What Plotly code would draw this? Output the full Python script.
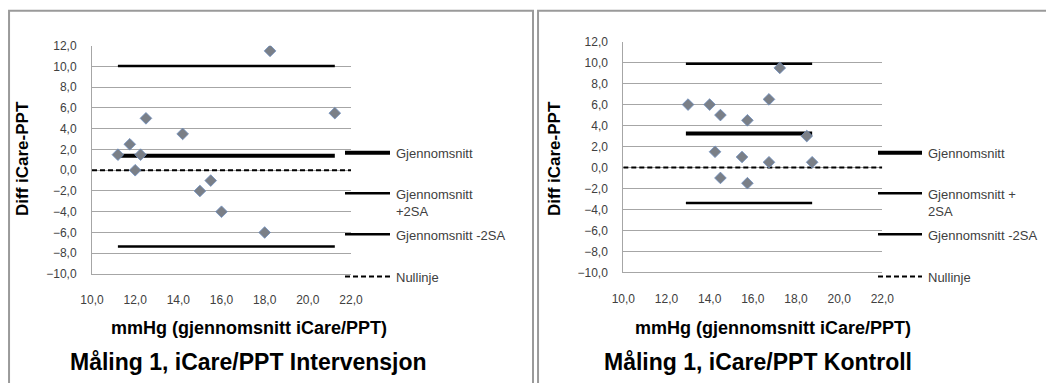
import plotly.graph_objects as go

# page body has an 8px margin: figure is sized to fit the window and
# target pixel positions are converted accordingly
OFF = 8
W, H = 1054 - OFF, 383 - OFF

# ---------------- data ----------------
titles = ["Måling 1, iCare/PPT Intervensjon", "Måling 1, iCare/PPT Kontroll"]
x_title = "mmHg (gjennomsnitt iCare/PPT)"
y_title = "Diff iCare-PPT"

int_x = [11.2, 11.75, 12.25, 12.0, 12.5, 14.2, 15.0, 15.5, 16.0, 18.0, 18.25, 21.25]
int_y = [1.5, 2.5, 1.5, 0.0, 5.0, 3.5, -2.0, -1.0, -4.0, -6.0, 11.5, 5.5]
int_mean, int_upper, int_lower = 1.4, 10.05, -7.35
int_span = [11.2, 21.25]

kon_x = [13.0, 14.0, 14.5, 15.75, 16.75, 17.25, 18.5, 18.75, 14.25, 15.5, 16.75, 14.5, 15.75]
kon_y = [6.0, 6.0, 5.0, 4.5, 6.5, 9.5, 3.0, 0.5, 1.5, 1.0, 0.5, -1.0, -1.5]
kon_mean, kon_upper, kon_lower = 3.25, 9.9, -3.4
kon_span = [12.9, 18.75]

zero_span = [10, 22]
x_range = [10, 22]
y_range = [-10, 12]

legend_int = ["Gjennomsnitt", "Gjennomsnitt<br>+2SA", "Gjennomsnitt -2SA", "Nullinje"]
legend_kon = ["Gjennomsnitt", "Gjennomsnitt +<br>2SA", "Gjennomsnitt -2SA", "Nullinje"]


def px(x):
    return max(0.0, (x - OFF) / W)


def py(y):
    return min(1.0, 1 - (y - OFF) / H)


fig = go.Figure()

panels = [
    dict(x=int_x, y=int_y, mean=int_mean, up=int_upper, lo=int_lower, span=int_span,
         xa="x", ya="y", dom_x=[92, 351], dom_y=[45.7, 274], legend=legend_int,
         leg_x0=345, leg_x1=390, ytitle_x=22, center_x=249, title_x=248, border=[6, 533]),
    dict(x=kon_x, y=kon_y, mean=kon_mean, up=kon_upper, lo=kon_lower, span=kon_span,
         xa="x2", ya="y2", dom_x=[623.3, 882.3], dom_y=[41.7, 272.3], legend=legend_kon,
         leg_x0=878, leg_x1=922, ytitle_x=554, center_x=773, title_x=758, border=[537, 1080]),
]

line_styles = [
    dict(color="black", width=4),
    dict(color="black", width=2.5),
    dict(color="black", width=2.5),
    dict(color="black", width=2, dash="5px,3px"),
]
leg_y = [152.7, 193.3, 234.3, 276.5]

shapes = []
annotations = []
FONT = "Liberation Sans, Arial"

for i, p in enumerate(panels):
    xa, ya = p["xa"], p["ya"]
    for val, st, nm in [(p["mean"], line_styles[0], "Gjennomsnitt"),
                        (p["up"], line_styles[1], "Gjennomsnitt +2SA"),
                        (p["lo"], line_styles[2], "Gjennomsnitt -2SA")]:
        fig.add_trace(go.Scatter(x=p["span"], y=[val, val], mode="lines", line=st,
                                 xaxis=xa, yaxis=ya, showlegend=False, name=nm,
                                 hoverinfo="skip"))
    fig.add_trace(go.Scatter(x=zero_span, y=[0, 0], mode="lines", line=line_styles[3],
                             xaxis=xa, yaxis=ya, showlegend=False, name="Nullinje",
                             hoverinfo="skip"))
    fig.add_trace(go.Scatter(x=p["x"], y=p["y"], mode="markers", xaxis=xa, yaxis=ya,
                             showlegend=False, name="Diff",
                             marker=dict(symbol="diamond", size=9, color="#7a7f87",
                                         line=dict(color="#6f8fc0", width=0.8))))

    for k, (lab, st, yy) in enumerate(zip(p["legend"], line_styles, leg_y)):
        shapes.append(dict(type="line", xref="paper", yref="paper",
                           x0=px(p["leg_x0"]), x1=px(p["leg_x1"]), y0=py(yy), y1=py(yy),
                           line=st))
        annotations.append(dict(text=lab, xref="paper", yref="paper",
                                x=px(p["leg_x1"] + 4), y=py(yy - 8.5), xanchor="left",
                                yanchor="top", showarrow=False, align="left",
                                font=dict(family=FONT, size=13, color="#404040")))
    annotations.append(dict(text="<b>" + y_title + "</b>", xref="paper", yref="paper",
                            x=px(p["ytitle_x"]), y=py(159), textangle=-90,
                            showarrow=False, xanchor="center", yanchor="middle",
                            font=dict(family=FONT, size=17, color="black")))
    annotations.append(dict(text="<b>" + x_title + "</b>", xref="paper", yref="paper",
                            x=px(p["center_x"]), y=py(328), showarrow=False,
                            xanchor="center", yanchor="middle",
                            font=dict(family=FONT, size=18, color="black")))
    annotations.append(dict(text="<b>" + titles[i] + "</b>", xref="paper", yref="paper",
                            x=px(p["title_x"]), y=py(362), showarrow=False,
                            xanchor="center", yanchor="middle",
                            font=dict(family=FONT, size=23, color="black")))
    shapes.append(dict(type="rect", xref="paper", yref="paper",
                       x0=px(p["border"][0]) + 0.001, x1=(p["border"][1] - OFF) / W,
                       y0=-0.02, y1=py(10) - 0.002,
                       line=dict(color="#9a9a9a", width=2), layer="below"))

axis_common = dict(range=x_range, dtick=2, tick0=10, tickformat=".1f", showgrid=False,
                   zeroline=False, showline=True, linecolor="#a6a6a6", linewidth=1,
                   ticks="", ticklabelstandoff=15, automargin=False,
                   tickfont=dict(family=FONT, size=12, color="#404040"))
yaxis_common = dict(range=y_range, dtick=2, tick0=-10, tickformat=".1f", showgrid=True,
                    gridcolor="#a6a6a6", gridwidth=1, zeroline=False, showline=True,
                    linecolor="#a6a6a6", linewidth=1, ticks="", ticklabelstandoff=12,
                    automargin=False,
                    tickfont=dict(family=FONT, size=12, color="#404040"))

p0, p1 = panels
fig.update_layout(
    width=W, height=H,
    margin=dict(l=0, r=0, t=0, b=0, pad=0, autoexpand=False),
    paper_bgcolor="white", plot_bgcolor="white",
    separators=", ",
    showlegend=False,
    xaxis=dict(domain=[px(p0["dom_x"][0]), px(p0["dom_x"][1])], anchor="y", **axis_common),
    yaxis=dict(domain=[py(p0["dom_y"][1]), py(p0["dom_y"][0])], anchor="x", **yaxis_common),
    xaxis2=dict(domain=[px(p1["dom_x"][0]), px(p1["dom_x"][1])], anchor="y2", **axis_common),
    yaxis2=dict(domain=[py(p1["dom_y"][1]), py(p1["dom_y"][0])], anchor="x2", **yaxis_common),
    shapes=shapes,
    annotations=annotations,
)

fig.write_html("out.html")
